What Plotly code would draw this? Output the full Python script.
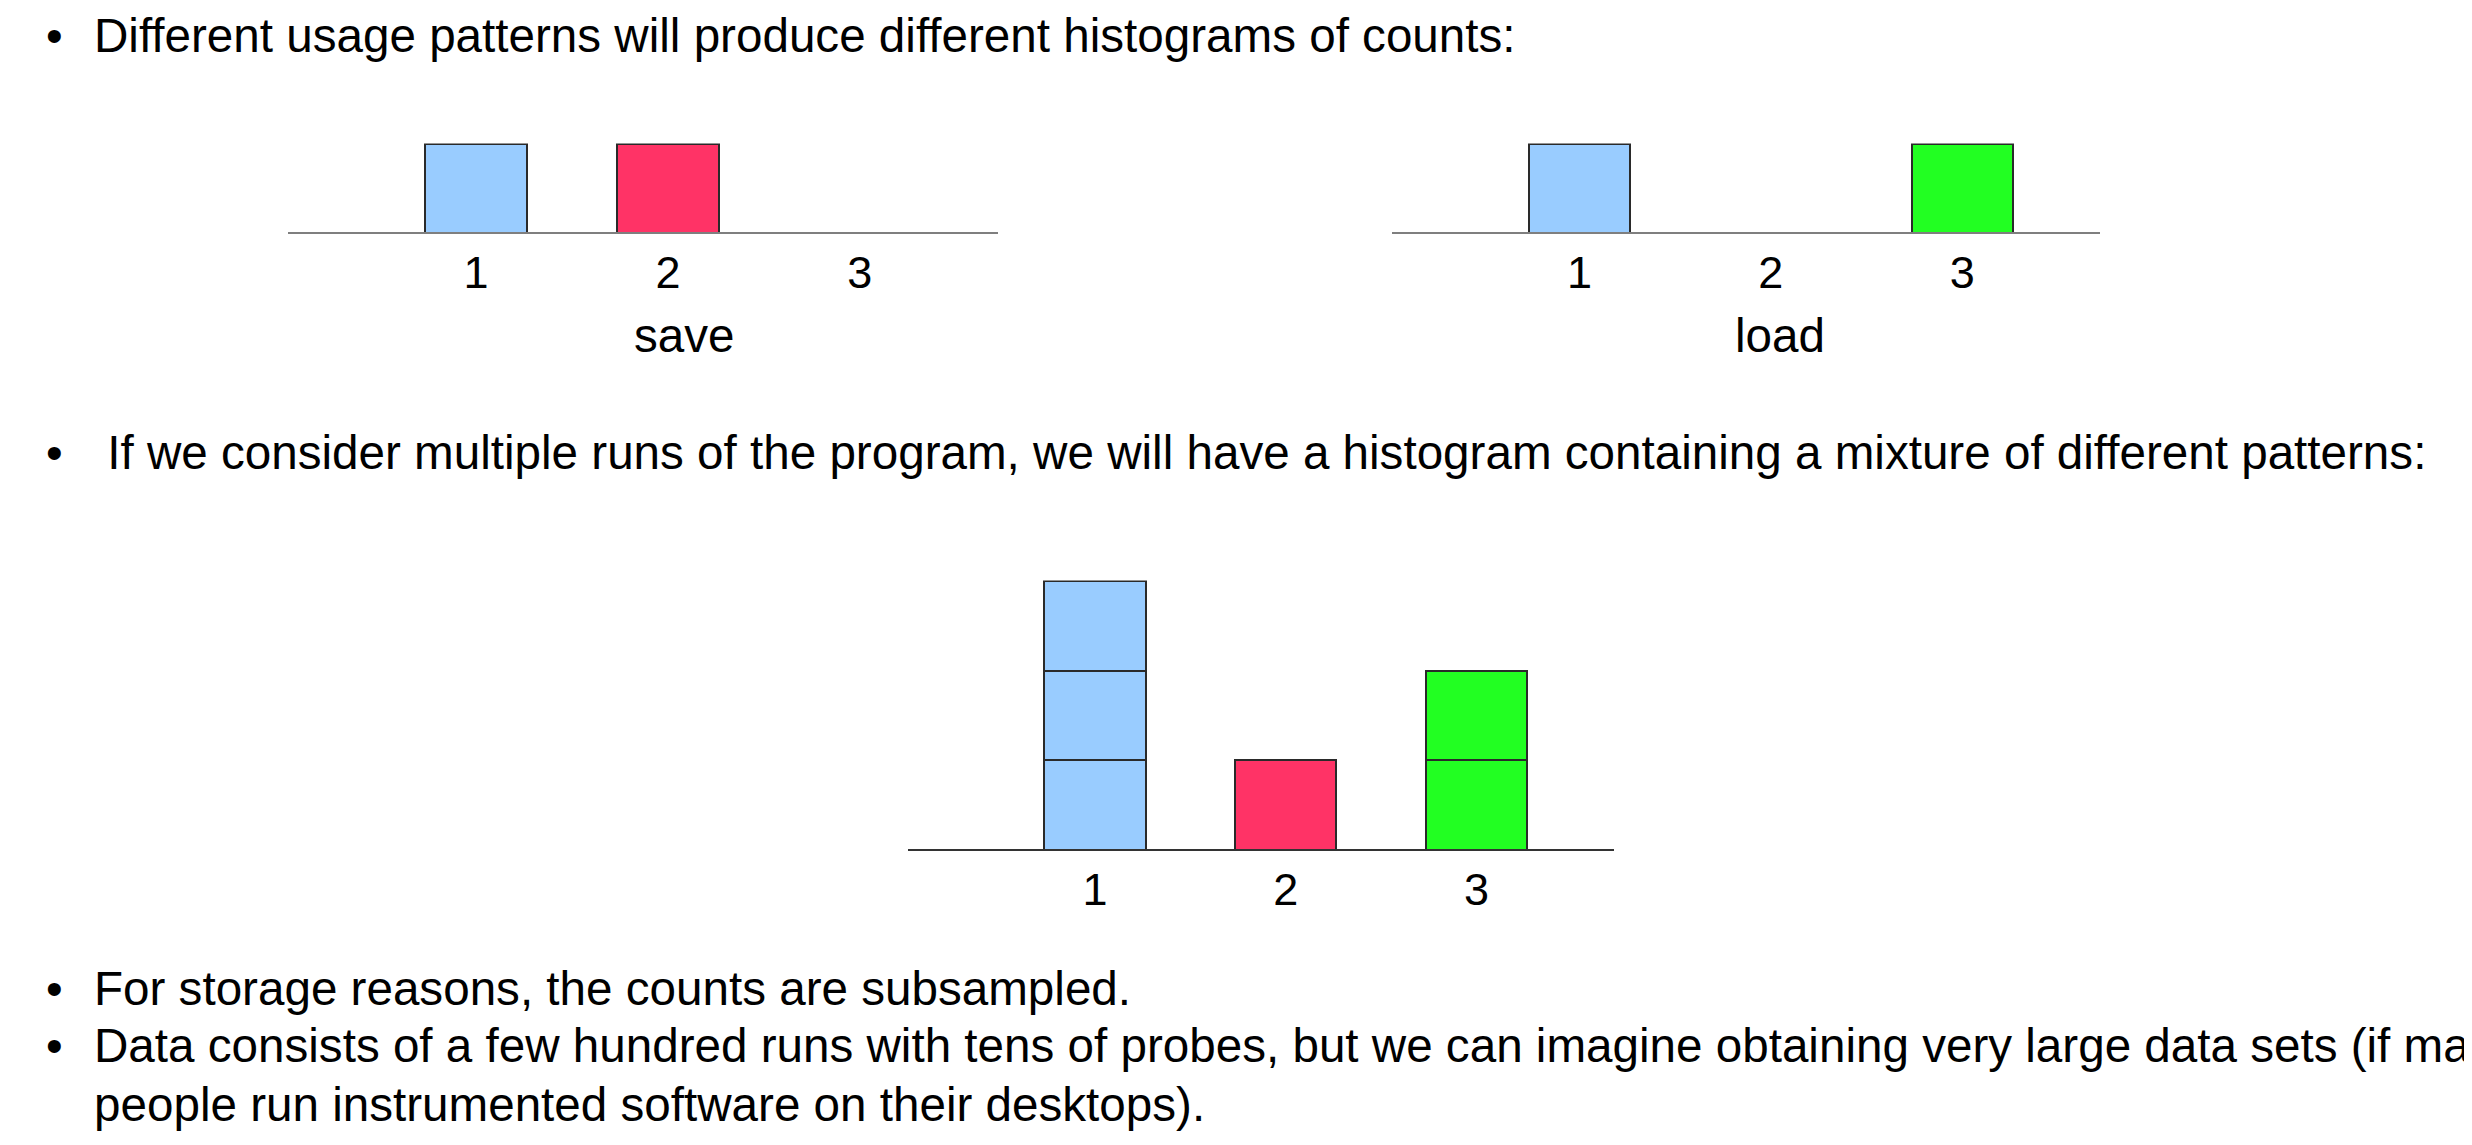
import plotly.graph_objects as go

OFF = 8                      # default page body margin
W, H = 2472 - 2 * OFF, 1145 - 2 * OFF

# ---- data ----
positions = [1, 2, 3]
tick_labels = ["1", "2", "3"]
bin_colors = ["#99CCFF", "#FF3366", "#22FF22"]
save_counts = [1, 1, 0]
load_counts = [1, 0, 1]
mixture_runs = [save_counts, load_counts, load_counts]   # save + load + load
save_title = "save"
load_title = "load"

bullets = [
    "Different usage patterns will produce different histograms of counts:",
    " If we consider multiple runs of the program, we will have a histogram containing a mixture of different patterns:",
    "For storage reasons, the counts are subsampled.",
    "Data consists of a few hundred runs with tens of probes, but we can imagine obtaining very large data sets (if many",
]
continuation = "people run instrumented software on their desktops)."

FONT = "Liberation Sans, Arial, Helvetica, sans-serif"
BODY = 47.6
TICK = 45
UNIT_TOP = 88.5
UNIT_BOT = 89.5
XR = [0.02, 3.72]


def px(x):
    return (x - OFF) / W


def py(y):
    return 1 - (y - OFF) / H


fig = go.Figure()


def nz(v):
    return [c if c else None for c in v]


def add_hist(runs, xa, ya):
    for run in runs:
        fig.add_trace(go.Bar(
            x=positions, y=nz(run), xaxis=xa, yaxis=ya, width=0.53,
            marker=dict(color=bin_colors, line=dict(color="#2a2a2a", width=2)),
            showlegend=False, hoverinfo="skip"))


add_hist([save_counts], "x", "y")
add_hist([load_counts], "x2", "y2")
add_hist(mixture_runs, "x3", "y3")

ax_common = dict(range=XR, showgrid=False, zeroline=False, showline=True,
                 ticks="", tickmode="array", tickvals=positions, ticktext=tick_labels,
                 tickfont=dict(family=FONT, size=TICK, color="black"), fixedrange=True)
ya_common = dict(visible=False, fixedrange=True)

fig.update_layout(
    width=W, height=H, margin=dict(l=0, r=0, t=0, b=0),
    paper_bgcolor="white", plot_bgcolor="rgba(0,0,0,0)",
    barmode="stack", bargap=0,
    xaxis=dict(domain=[px(288), px(998)], anchor="y", linecolor="#7f7f7f", linewidth=2, **ax_common),
    yaxis=dict(domain=[py(232), py(232 - UNIT_TOP)], range=[0, 1], anchor="x", **ya_common),
    xaxis2=dict(domain=[px(1392), px(2100)], anchor="y2", linecolor="#7f7f7f", linewidth=2, **ax_common),
    yaxis2=dict(domain=[py(232), py(232 - UNIT_TOP)], range=[0, 1], anchor="x2", **ya_common),
    xaxis3=dict(domain=[px(908), px(1614)], anchor="y3", linecolor="#333333", linewidth=2, **ax_common),
    yaxis3=dict(domain=[py(849), py(849 - 3 * UNIT_BOT)], range=[0, 3], anchor="x3", **ya_common),
)

ann = []
bullet_ys = [35, 452, 988, 1045]
for t, yy in zip(bullets, bullet_ys):
    ann.append(dict(x=px(54), y=py(yy), xref="paper", yref="paper", text="•",
                    showarrow=False, xanchor="center", yanchor="middle",
                    font=dict(family=FONT, size=BODY, color="black")))
    ann.append(dict(x=px(92), y=py(yy), xref="paper", yref="paper",
                    text=t.replace(" ", "&nbsp;", 1) if t.startswith(" ") else t,
                    showarrow=False, xanchor="left", yanchor="middle",
                    font=dict(family=FONT, size=BODY, color="black")))
ann.append(dict(x=px(92), y=py(1104), xref="paper", yref="paper", text=continuation,
                showarrow=False, xanchor="left", yanchor="middle",
                font=dict(family=FONT, size=BODY, color="black")))
ann.append(dict(x=px(684), y=py(335), xref="paper", yref="paper", text=save_title,
                showarrow=False, xanchor="center", yanchor="middle",
                font=dict(family=FONT, size=BODY, color="black")))
ann.append(dict(x=px(1780), y=py(335), xref="paper", yref="paper", text=load_title,
                showarrow=False, xanchor="center", yanchor="middle",
                font=dict(family=FONT, size=BODY, color="black")))
fig.update_layout(annotations=ann)

fig.write_html("out.html")
